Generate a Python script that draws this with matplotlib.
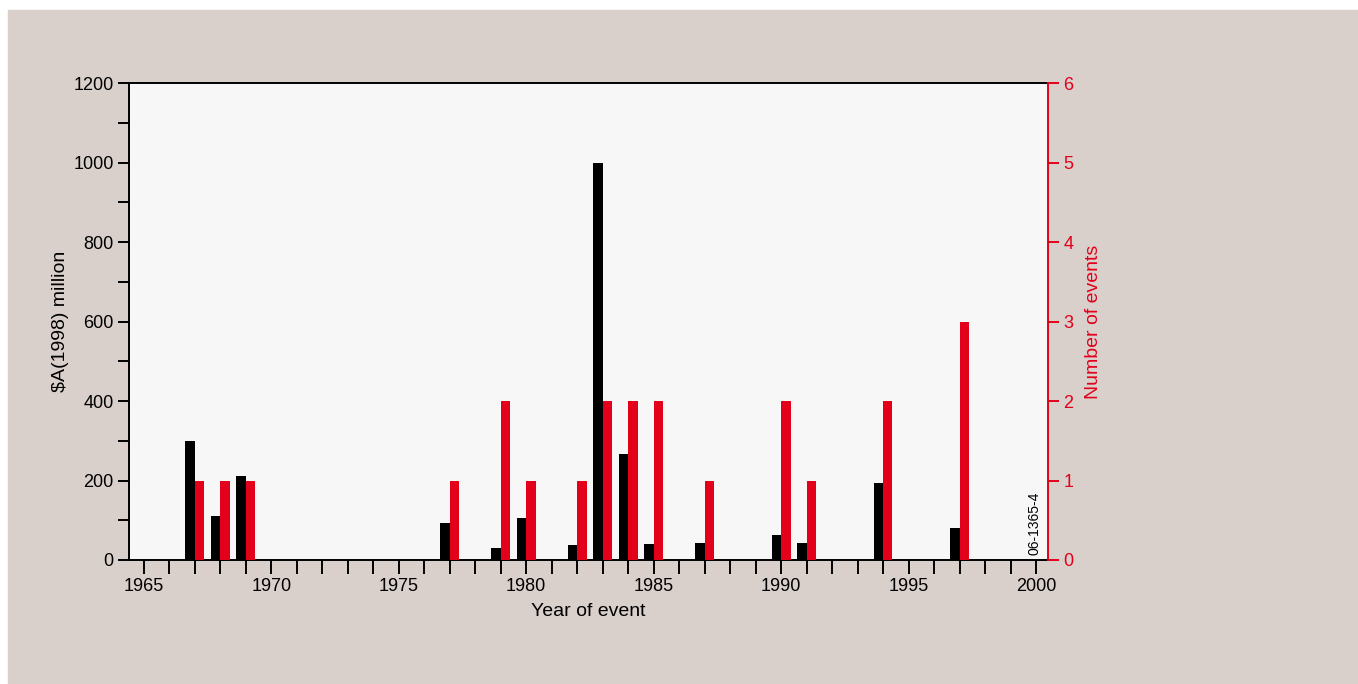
import numpy as np
import matplotlib.pyplot as plt
from matplotlib.ticker import MultipleLocator

plt.rcParams['font.family'] = ['Liberation Sans Narrow', 'Liberation Sans', 'DejaVu Sans']

# damage per year ($A 1998, millions) and number of events per year
years = [1967, 1968, 1969, 1977, 1979, 1980, 1982, 1983, 1984, 1985,
         1987, 1990, 1991, 1994, 1997]
cost = [300, 110, 212, 94, 31, 106, 38, 1000, 267, 39,
        42, 62, 44, 194, 80]
events = [1, 1, 1, 1, 2, 1, 1, 2, 2, 2, 1, 2, 1, 2, 3]

red = '#e2001a'
bg = '#dad0cb'

fig = plt.figure(figsize=(13.58, 6.84), dpi=100)
fig.patch.set_facecolor('white')
# beige panel with a thin white margin on the top and left
fig.add_artist(plt.Rectangle((8 / 1358, 0), 1, 1 - 10 / 684,
                             transform=fig.transFigure, color=bg, zorder=-10))

ax = fig.add_axes([129 / 1358, 124 / 684, 919 / 1358, 477 / 684])
ax.set_facecolor('#f7f7f7')
w = 0.37
yrs = np.array(years)
ax.bar(yrs - w / 2, cost, width=w, color='black', zorder=3)
ax.set_xlim(1964.42, 2000.47)
ax.set_ylim(0, 1200)
ax.xaxis.set_major_locator(MultipleLocator(5))
ax.xaxis.set_minor_locator(MultipleLocator(1))
ax.yaxis.set_major_locator(MultipleLocator(200))
ax.yaxis.set_minor_locator(MultipleLocator(100))
ax.tick_params(axis='x', which='both', length=10, width=1.4, labelsize=13, pad=3)
ax.tick_params(axis='y', which='both', length=8, width=1.4, labelsize=13, pad=3)
for s in ax.spines.values():
    s.set_linewidth(1.4)
ax.spines['right'].set_visible(False)
ax.set_xlabel('Year of event', fontsize=14, labelpad=6)
ax.set_ylabel('$A(1998) million', fontsize=14, labelpad=3)

ax2 = ax.twinx()
ax2.bar(yrs + w / 2, events, width=w, color=red, zorder=3)
ax2.set_ylim(0, 6)
ax2.yaxis.set_major_locator(MultipleLocator(1))
ax2.tick_params(axis='y', length=8, width=1.4, colors=red, labelsize=13, pad=3)
for k in ['left', 'top', 'bottom']:
    ax2.spines[k].set_visible(False)
ax2.spines['right'].set_color(red)
ax2.spines['right'].set_linewidth(1.4)
ax2.set_ylabel('Number of events', color=red, fontsize=14, labelpad=8)

ax2.text(0.9925, 0.01, '06-1365-4', transform=ax.transAxes, rotation=90,
         ha='right', va='bottom', fontsize=10)

fig.savefig('out.png', dpi=100, facecolor=fig.get_facecolor())
